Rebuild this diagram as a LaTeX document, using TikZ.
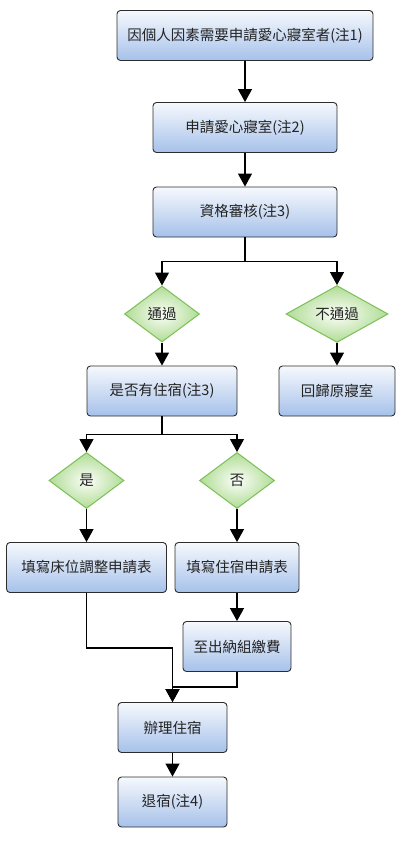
\documentclass[tikz,border=0pt]{standalone}
\usepackage{fontspec}
\setmainfont{Noto Sans CJK TC}
\usepackage{tikz}
\usetikzlibrary{shapes.geometric,arrows.meta,positioning}
\definecolor{boxtop}{RGB}{246,249,253}
\definecolor{boxbot}{RGB}{166,193,234}
\definecolor{boxline}{RGB}{45,45,45}
\definecolor{dmdin}{RGB}{252,254,250}
\definecolor{dmdout}{RGB}{176,220,148}
\definecolor{dmdline}{RGB}{122,192,86}
\definecolor{txtgray}{RGB}{35,35,35}
\tikzset{
  procbox/.style={draw=boxline,line width=0.9pt,rounded corners=3.5pt,
    top color=boxtop,bottom color=boxbot,minimum height=50pt,inner sep=2pt,
    text=txtgray,font=\fontsize{14.5}{17}\selectfont},
  decision/.style={diamond,draw=dmdline,line width=1pt,inner color=dmdin,
    outer color=dmdout,inner sep=0pt,minimum height=56pt,
    text=txtgray,font=\fontsize{14.5}{17}\selectfont},
  flow/.style={draw=black,line width=1.2pt,-{Triangle[length=13pt,width=14pt]}},
}
\newcommand{\pbox}[5]{\node[procbox,minimum width=#4pt] (#1) at (#2,#3) {#5};}
\newcommand{\qdmd}[5]{\node[decision,minimum width=#4pt] (#1) at (#2,#3) {#5};}

\begin{document}
\begin{tikzpicture}[x=1pt,y=-1pt]
        \useasboundingbox (0,0) rectangle (406,841);
        \pbox{apply}{245}{35.5}{256}{因個人因素需要申請愛心寢室者(注1)}
        \pbox{req}{245}{127.5}{184}{申請愛心寢室(注2)}
        \pbox{check}{245}{212}{184}{資格審核(注3)}
        \qdmd{pass}{162}{314}{75}{通過}
        \qdmd{fail}{337}{314}{102}{不通過}
        \pbox{stay}{162}{391}{150}{是否有住宿(注3)}
        \pbox{back}{337}{391}{116}{回歸原寢室}
        \qdmd{yes}{86.5}{480.5}{75}{是}
        \qdmd{no}{237}{480.5}{75}{否}
        \pbox{bed}{86.5}{567.5}{160}{填寫床位調整申請表}
        \pbox{form}{237}{567.5}{124}{填寫住宿申請表}
        \pbox{pay}{237}{646.5}{108}{至出納組繳費}
        \pbox{move}{172.5}{727.5}{109}{辦理住宿}
        \pbox{leave}{172.5}{802}{109}{退宿(注4)}
        % connectors
        \draw[flow] (apply) -- (req);
        \draw[flow] (req) -- (check);
        \draw[flow] (check.south) -- ++(0,24) -| (pass);
        \draw[flow] (check.south) -- ++(0,24) -| (fail);
        \draw[flow] (pass) -- (stay);
        \draw[flow] (fail) -- (back);
        \draw[flow] (stay.south) -- ++(0,18) -| (yes);
        \draw[flow] (stay.south) -- ++(0,18) -| (no);
        \draw[flow] (yes) -- (bed);
        \draw[flow] (no) -- (form);
        \draw[flow] (form) -- (pay);
        \draw[flow] (bed.south) -- ++(0,55) -| (move);
        \draw[flow] (pay.south) -- ++(0,15) -| (move);
        \draw[flow] (move) -- (leave);
\end{tikzpicture}
\end{document}
